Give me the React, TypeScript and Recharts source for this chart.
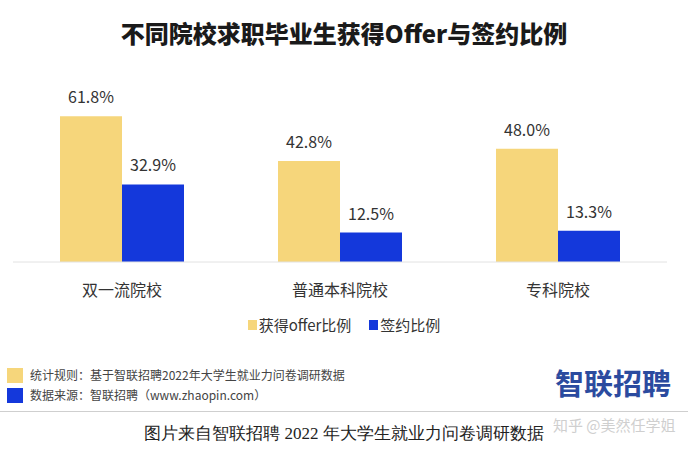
import { BarChart, Bar, XAxis, YAxis, Legend, LabelList } from 'recharts'

const schools = ['双一流院校', '普通本科院校', '专科院校']
const offerRate = [61.8, 42.8, 48.0]
const signRate = [32.9, 12.5, 13.3]
const seriesNames = ['获得offer比例', '签约比例']

const data = schools.map((name, i) => ({
    name,
    offer: offerRate[i],
    sign: signRate[i],
}))

const YELLOW = '#F6D67B'
const BLUE = '#1438DB'
const FONT = '"Noto Sans CJK SC", "Noto Sans", sans-serif'

const renderLegend = (props: any) => {
    const items = [...(props.payload || [])].sort(
        (a: any, b: any) => seriesNames.indexOf(a.value) - seriesNames.indexOf(b.value)
    )
    return (
        <div
            style={{
                display: 'flex',
                justifyContent: 'center',
                gap: 18,
                fontSize: 15,
                color: '#333',
                lineHeight: '18px',
            }}
        >
            {items.map((entry: any) => (
                <span key={entry.value} style={{ display: 'flex', alignItems: 'center' }}>
                    <span
                        style={{
                            display: 'inline-block',
                            width: 9,
                            height: 10,
                            background: entry.color,
                            marginRight: 2,
                        }}
                    />
                    {entry.value}
                </span>
            ))}
        </div>
    )
}

const pct = (v: any) => `${Number(v).toFixed(1)}%`

export default function App() {
    return (
        <div
            style={{
                position: 'absolute',
                left: 0,
                top: 0,
                width: 688,
                height: 451,
                background: '#fff',
                fontFamily: FONT,
                overflow: 'hidden',
            }}
        >
            <div
                style={{
                    position: 'absolute',
                    top: 17,
                    left: 0,
                    width: 688,
                    textAlign: 'center',
                    fontSize: 24,
                    fontWeight: 900,
                    color: '#1a1a1a',
                    lineHeight: '32px',
                }}
            >
                不同院校求职毕业生获得Offer与签约比例
            </div>

            <div style={{ position: 'absolute', left: 0, top: 0 }}>
                <BarChart
                    width={688}
                    height={345}
                    data={data}
                    margin={{ top: 97, right: 21, left: 13, bottom: 0 }}
                    barCategoryGap={47}
                    barGap={0}
                >
                    <XAxis
                        dataKey="name"
                        height={83}
                        tickLine={false}
                        axisLine={{ stroke: '#e2e2e2' }}
                        tickMargin={17}
                        tick={{ fill: '#333', fontSize: 16 }}
                    />
                    <YAxis hide domain={[0, 70]} />
                    <Legend
                        layout="horizontal"
                        verticalAlign="middle"
                        align="center"
                        content={renderLegend}
                        wrapperStyle={{ top: 316, left: 0, width: 688 }}
                    />
                    <Bar dataKey="offer" name={seriesNames[0]} fill={YELLOW} isAnimationActive={false}>
                        <LabelList
                            dataKey="offer"
                            position="top"
                            offset={13}
                            formatter={pct}
                            style={{ fill: '#333', fontSize: 16 }}
                        />
                    </Bar>
                    <Bar dataKey="sign" name={seriesNames[1]} fill={BLUE} isAnimationActive={false}>
                        <LabelList
                            dataKey="sign"
                            position="top"
                            offset={13}
                            formatter={pct}
                            style={{ fill: '#333', fontSize: 16 }}
                        />
                    </Bar>
                </BarChart>
            </div>

            {/* footnotes */}
            <div style={{ position: 'absolute', left: 7, top: 368, width: 16, height: 15, background: YELLOW }} />
            <div style={{ position: 'absolute', left: 7, top: 388, width: 16, height: 15, background: BLUE }} />
            <div
                style={{
                    position: 'absolute',
                    left: 30,
                    top: 367,
                    fontSize: 12,
                    lineHeight: '16px',
                    color: '#444',
                    whiteSpace: 'nowrap',
                }}
            >
                统计规则：基于智联招聘2022年大学生就业力问卷调研数据
            </div>
            <div
                style={{
                    position: 'absolute',
                    left: 30,
                    top: 387,
                    fontSize: 12,
                    lineHeight: '16px',
                    color: '#444',
                    whiteSpace: 'nowrap',
                }}
            >
                数据来源：智联招聘（www.zhaopin.com）
            </div>

            <div
                style={{
                    position: 'absolute',
                    left: 555,
                    top: 364,
                    fontSize: 29,
                    fontWeight: 700,
                    lineHeight: '36px',
                    color: '#2b4b9f',
                    whiteSpace: 'nowrap',
                }}
            >
                智联招聘
            </div>

            <div
                style={{
                    position: 'absolute',
                    left: 0,
                    top: 411,
                    width: 688,
                    height: 1,
                    background: '#cfcfcf',
                }}
            />

            <div
                style={{
                    position: 'absolute',
                    left: 0,
                    top: 422,
                    width: 688,
                    textAlign: 'center',
                    fontFamily: 'serif',
                    fontSize: 17,
                    lineHeight: '24px',
                    color: '#222',
                    whiteSpace: 'nowrap',
                }}
            >
                图片来自智联招聘 2022 年大学生就业力问卷调研数据
            </div>

            <div
                style={{
                    position: 'absolute',
                    left: 553,
                    top: 414,
                    fontSize: 15,
                    lineHeight: '22px',
                    color: '#cfcfcf',
                    whiteSpace: 'nowrap',
                }}
            >
                知乎 @美然任学姐
            </div>
        </div>
    )
}
